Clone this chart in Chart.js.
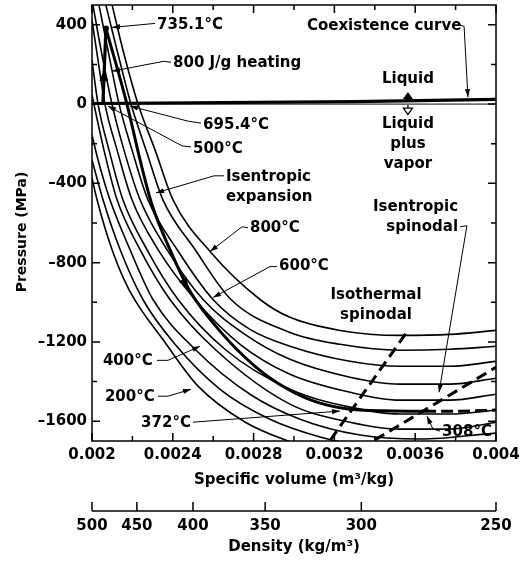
<!DOCTYPE html>
<html>
<head>
<meta charset="utf-8">
<script src="https://cdn.jsdelivr.net/npm/chart.js@4.4.1/dist/chart.umd.min.js"></script>
<style>
  html, body { margin: 0; padding: 0; background: #fff; }
</style>
</head>
<body>
<canvas id="chart" width="528" height="561"></canvas>
<script>
// ---- data: [specific volume (m3/kg), pressure (MPa)] ----
// isotherms, coldest (leftmost) first
const iso1 = [[0.002, -372], [0.002025, -483], [0.002099, -734], [0.002183, -936], [0.002361, -1202], [0.002525, -1423], [0.002757, -1604], [0.00297, -1700], [0.00316, -1760]];
const iso2 = [[0.002, -282], [0.0020545, -483], [0.002139, -734], [0.002252, -986], [0.002411, -1212], [0.002634, -1439], [0.002881, -1590], [0.003129, -1680], [0.003327, -1725]];
const iso3 = [[0.002, -156], [0.00203, -282], [0.002089, -483], [0.002188, -734], [0.002302, -986], [0.00251, -1237], [0.002782, -1464], [0.00303, -1590], [0.003327, -1670], [0.003624, -1690], [0.004, -1660]];
const iso4 = [[0.002, 45], [0.002059, -231], [0.002124, -483], [0.002238, -734], [0.002386, -986], [0.002609, -1237], [0.00298, -1514], [0.003277, -1605], [0.003525, -1640], [0.003772, -1640], [0.004, -1605]];
const iso5 = [[0.002, 221], [0.00203, 0], [0.002084, -231], [0.002153, -483], [0.002272, -734], [0.002426, -986], [0.002658, -1237], [0.00298, -1439], [0.003277, -1529], [0.003525, -1564], [0.003772, -1564], [0.004, -1544]];
const iso6 = [[0.002, 423], [0.00203, 221], [0.002064, 0], [0.002124, -231], [0.002198, -483], [0.002327, -734], [0.00251, -986], [0.002733, -1212], [0.00298, -1363], [0.003277, -1454], [0.003525, -1494], [0.003772, -1494], [0.004, -1464]];
const iso7 = [[0.002005, 498], [0.002045, 272], [0.002099, 0], [0.002158, -231], [0.002238, -483], [0.002371, -734], [0.00255, -986], [0.002757, -1162], [0.00298, -1288], [0.003277, -1378], [0.003525, -1413], [0.003772, -1413], [0.004, -1383]];
const iso8 = [[0.002035, 498], [0.002079, 272], [0.002134, 0], [0.002198, -231], [0.002277, -483], [0.002421, -734], [0.002599, -986], [0.002782, -1137], [0.00298, -1222], [0.003277, -1298], [0.003525, -1323], [0.003772, -1323], [0.004, -1298]];
const iso9 = [[0.002069, 498], [0.002124, 272], [0.002193, 0], [0.002267, -231], [0.002351, -483], [0.00251, -734], [0.002688, -986], [0.00298, -1152], [0.003228, -1212], [0.003525, -1242], [0.003772, -1237], [0.004, -1222]];
const iso10 = [[0.0021, 498], [0.0021535, 272], [0.002228, 0], [0.002312, -231], [0.002401, -483], [0.002589, -749], [0.002832, -986], [0.00298, -1076], [0.003228, -1142], [0.003525, -1167], [0.003772, -1162], [0.004, -1142]];

const heating = [[0.002054, 0], [0.002069, 382]];
const isentrope = [[0.002069, 382], [0.002173, 0], [0.002238, -282], [0.002297, -508], [0.002386, -734], [0.00248, -936], [0.002639, -1152], [0.002807, -1323], [0.00297, -1439], [0.003129, -1509], [0.003327, -1544], [0.003644, -1550]];
const isentropeBeyond = [[0.003644, -1550], [0.003822, -1550], [0.004, -1544]];
const coexistence = [[0.002, 3], [0.0033, 12], [0.004, 24]];
const zeroLine = [[0.002, 0], [0.004, 0]];
const isothermalSpinodal = [[0.00318, -1695], [0.003568, -1137]];
const isentropicSpinodal = [[0.0034, -1695], [0.004, -1328]];

// ---- ticks ----
const pressureTicks = [-1600, -1400, -1200, -1000, -800, -600, -400, -200, 0, 200, 400];
const pressureLabels = ['–1600', '', '–1200', '', '–800', '', '–400', '', '0', '', '400'];
const volumeTicks = [0.002, 0.0022, 0.0024, 0.0026, 0.0028, 0.003, 0.0032, 0.0034, 0.0036, 0.0038, 0.004];
const volumeLabels = ['0.002', '', '0.0024', '', '0.0028', '', '0.0032', '', '0.0036', '', '0.004'];
const densityTicks = [500, 450, 400, 350, 300, 250];

// ---- annotations (data coords) ----
const notes = [
  { lines: ['735.1°C'], at: [0.002322, 397], path: [[0.002312, 407], [0.002099, 387]] },
  { lines: ['800 J/g heating'], at: [0.002401, 206], path: [[0.002391, 211], [0.002356, 216], [0.002099, 166]] },
  { lines: ['695.4°C'], at: [0.00255, -106], path: [[0.00254, -96], [0.002475, -86], [0.002188, -10]] },
  { lines: ['500°C'], at: [0.0025, -226], path: [[0.00249, -216], [0.002446, -211], [0.002079, -10]] },
  { lines: ['Isentropic', 'expansion'], at: [0.002663, -367], path: [[0.002653, -362], [0.002604, -362], [0.002317, -448]] },
  { lines: ['800°C'], at: [0.002782, -624], path: [[0.002772, -624], [0.002743, -619], [0.002584, -744]] },
  { lines: ['600°C'], at: [0.002926, -820], path: [[0.002916, -820], [0.002881, -820], [0.002599, -976]] },
  { lines: ['Isothermal', 'spinodal'], at: [0.003406, -966], align: 'center' },
  { lines: ['Isentropic', 'spinodal'], at: [0.003812, -518], align: 'right', path: [[0.003822, -619], [0.003856, -614], [0.003718, -1454]] },
  { lines: ['Coexistence curve'], at: [0.003064, 392], path: [[0.003812, 402], [0.003842, 392], [0.003861, 35]] },
  { lines: ['Liquid'], at: [0.003564, 126], align: 'center' },
  { lines: ['Liquid', 'plus', 'vapor'], at: [0.003564, -101], align: 'center' },
  { lines: ['400°C'], at: [0.002054, -1298], path: [[0.002322, -1293], [0.002376, -1293], [0.002535, -1222]] },
  { lines: ['200°C'], at: [0.002064, -1479], path: [[0.002327, -1474], [0.002376, -1474], [0.00249, -1439]] },
  { lines: ['372°C'], at: [0.002243, -1610], path: [[0.0025, -1605], [0.003228, -1549]] },
  { lines: ['308°C'], at: [0.003733, -1655], path: [[0.003723, -1650], [0.003688, -1640], [0.003658, -1574]] },
];

Chart.defaults.font.family = '"DejaVu Sans", sans-serif';
Chart.defaults.font.weight = 'bold';
Chart.defaults.color = '#000';

const toXY = arr => arr.map(([x, y]) => ({ x, y }));
const base = { borderColor: '#000', borderWidth: 1.6, pointRadius: 0, fill: false, xAxisID: 'x', yAxisID: 'y' };

const datasets = [iso1, iso2, iso3, iso4, iso5, iso6, iso7, iso8, iso9, iso10]
  .map(d => ({ ...base, data: toXY(d), cubicInterpolationMode: 'monotone' }));
datasets.push({ ...base, data: toXY(zeroLine), borderWidth: 1 });
datasets.push({ ...base, data: toXY(coexistence), borderWidth: 3.2 });
datasets.push({ ...base, data: toXY(heating), borderWidth: 3.2 });
datasets.push({ ...base, data: toXY(isentrope), borderWidth: 3, cubicInterpolationMode: 'monotone' });
datasets.push({ ...base, data: toXY(isentropeBeyond), borderWidth: 3, borderDash: [12, 5] });
datasets.push({ ...base, data: toXY(isothermalSpinodal), borderWidth: 3, borderDash: [11, 6] });
datasets.push({ ...base, data: toXY(isentropicSpinodal), borderWidth: 3, borderDash: [11, 6] });

function arrowHead(ctx, x0, y0, x1, y1, len, half) {
  const a = Math.atan2(y1 - y0, x1 - x0);
  const c = Math.cos(a), s = Math.sin(a);
  ctx.beginPath();
  ctx.moveTo(x1, y1);
  ctx.lineTo(x1 - len * c + half * s, y1 - len * s - half * c);
  ctx.lineTo(x1 - len * c - half * s, y1 - len * s + half * c);
  ctx.closePath();
  ctx.fill();
}

const framePlugin = {
  id: 'frame',
  afterDraw(chart) {
    const { ctx, chartArea: a, scales } = chart;
    const X = v => scales.x.getPixelForValue(v);
    const Y = p => scales.y.getPixelForValue(p);
    ctx.save();
    ctx.strokeStyle = '#000';
    ctx.fillStyle = '#000';

    // frame + inward ticks
    ctx.lineWidth = 1.5;
    ctx.strokeRect(a.left, a.top, a.right - a.left, a.bottom - a.top);
    ctx.beginPath();
    volumeTicks.forEach((v, i) => {
      const px = X(v), len = volumeLabels[i] ? 8 : 5;
      ctx.moveTo(px, a.bottom); ctx.lineTo(px, a.bottom - len);
      ctx.moveTo(px, a.top); ctx.lineTo(px, a.top + len);
    });
    pressureTicks.forEach((p, i) => {
      const py = Y(p), len = pressureLabels[i] ? 8 : 5;
      ctx.moveTo(a.left, py); ctx.lineTo(a.left + len, py);
      ctx.moveTo(a.right, py); ctx.lineTo(a.right - len, py);
    });
    ctx.stroke();

    // y title, sitting a little below the axis middle as in the original
    ctx.save();
    ctx.font = 'bold 14px "DejaVu Sans"';
    ctx.textAlign = 'center';
    ctx.textBaseline = 'middle';
    ctx.translate(22, (a.top + a.bottom) / 2 + 9);
    ctx.rotate(-Math.PI / 2);
    ctx.fillText('Pressure (MPa)', 0, 0);
    ctx.restore();

    // density axis: baseline with upward ticks
    const d = scales.density;
    const by = d.top + 22;
    ctx.beginPath();
    ctx.moveTo(d.getPixelForValue(1 / densityTicks[0]), by);
    ctx.lineTo(d.getPixelForValue(1 / densityTicks[densityTicks.length - 1]), by);
    densityTicks.forEach(r => {
      const px = d.getPixelForValue(1 / r);
      ctx.moveTo(px, by); ctx.lineTo(px, by - 9);
    });
    ctx.stroke();

    // arrowheads on the thick process lines
    const h0 = [X(heating[0][0]), Y(heating[0][1])], h1 = [X(heating[1][0]), Y(heating[1][1])];
    const hx = h0[0] + 0.45 * (h1[0] - h0[0]), hy = h0[1] + 0.45 * (h1[1] - h0[1]);
    arrowHead(ctx, h0[0], h0[1], hx, hy, 11, 4.5);
    ctx.beginPath(); ctx.arc(h1[0], h1[1], 3, 0, Math.PI * 2); ctx.fill();
    const s4 = isentrope[4], s5 = isentrope[5], s6 = isentrope[6];
    const dx = X(s6[0]) - X(s4[0]), dy = Y(s6[1]) - Y(s4[1]);
    arrowHead(ctx, X(s5[0]) - dx, Y(s5[1]) - dy, X(s5[0]), Y(s5[1]), 12, 4.5);

    // liquid / liquid-plus-vapor arrows
    const lx = X(0.003564), ly = Y(0);
    ctx.beginPath();
    ctx.moveTo(lx, ly - 12); ctx.lineTo(lx + 5, ly - 5); ctx.lineTo(lx - 5, ly - 5); ctx.closePath(); ctx.fill();
    ctx.fillRect(lx - 1.5, ly - 6, 3, 4);
    ctx.lineWidth = 1.3;
    ctx.beginPath();
    ctx.moveTo(lx, ly + 1); ctx.lineTo(lx, ly + 4);
    ctx.moveTo(lx - 4.5, ly + 4); ctx.lineTo(lx + 4.5, ly + 4); ctx.lineTo(lx, ly + 10.5); ctx.closePath();
    ctx.stroke();

    // labels and leaders
    ctx.font = 'bold 15px "DejaVu Sans"';
    ctx.textBaseline = 'middle';
    notes.forEach(n => {
      ctx.textAlign = n.align || 'left';
      n.lines.forEach((t, i) => ctx.fillText(t, X(n.at[0]), Y(n.at[1]) + i * 20));
      if (!n.path) return;
      const pts = n.path.map(([v, p]) => [X(v), Y(p)]);
      ctx.lineWidth = 1;
      ctx.beginPath();
      pts.forEach(([px, py], i) => (i ? ctx.lineTo(px, py) : ctx.moveTo(px, py)));
      ctx.stroke();
      const [p0, p1] = pts.slice(-2);
      arrowHead(ctx, p0[0], p0[1], p1[0], p1[1], 8, 2.6);
    });
    ctx.restore();
  }
};

const tickFont = { size: 15, weight: 'bold' };
const titleFont = { size: 15, weight: 'bold' };

new Chart(document.getElementById('chart'), {
  type: 'line',
  data: { datasets },
  options: {
    responsive: false,
    animation: false,
    devicePixelRatio: 1,
    layout: { padding: { left: 14, right: 32, top: 5, bottom: 5 } },
    plugins: { legend: { display: false }, tooltip: { enabled: false } },
    scales: {
      x: {
        type: 'linear', position: 'bottom', weight: 0, min: 0.002, max: 0.004,
        grid: { display: false, drawTicks: false }, border: { display: false },
        afterBuildTicks: s => { s.ticks = volumeTicks.map(value => ({ value })); },
        ticks: { autoSkip: false, maxRotation: 0, minRotation: 0, padding: 5, font: tickFont, callback: (v, i) => volumeLabels[i] },
        title: { display: true, text: 'Specific volume (m³/kg)', font: titleFont, padding: 0 },
        afterFit: s => { s.height = 48; s.paddingLeft = 0; s.paddingRight = 0; }
      },
      density: {
        type: 'linear', axis: 'x', position: 'bottom', weight: 1, min: 0.002, max: 0.004,
        grid: { display: false, drawTicks: false }, border: { display: false },
        afterBuildTicks: s => { s.ticks = densityTicks.map(r => ({ value: 1 / r })); },
        ticks: { autoSkip: false, maxRotation: 0, minRotation: 0, padding: 28, font: tickFont, callback: (v, i) => String(densityTicks[i]) },
        title: { display: true, text: 'Density (kg/m³)', font: titleFont, padding: 0 },
        afterFit: s => { s.height = 67; s.paddingLeft = 0; s.paddingRight = 0; }
      },
      y: {
        type: 'linear', position: 'left', min: -1700, max: 500,
        grid: { display: false, drawTicks: false }, border: { display: false },
        afterBuildTicks: s => { s.ticks = pressureTicks.map(value => ({ value })); },
        ticks: { autoSkip: false, padding: 5, font: tickFont, callback: (v, i) => pressureLabels[i] },
        title: { display: false },
        afterFit: s => { s.width = 78; s.paddingTop = 0; s.paddingBottom = 0; }
      }
    }
  },
  plugins: [framePlugin]
});
</script>
</body>
</html>
